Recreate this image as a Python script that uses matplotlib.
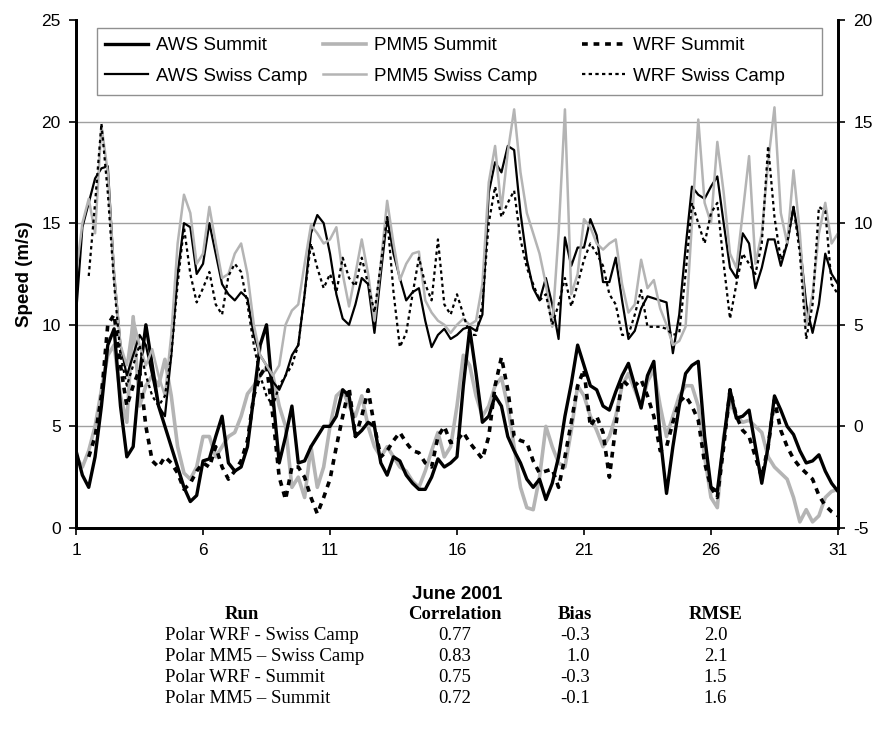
import numpy as np
import matplotlib
matplotlib.use('Agg')
import matplotlib.pyplot as plt
from matplotlib.patches import Rectangle

# six-hourly samples, 1 to 31 June 2001
days = np.arange(1, 31.01, 0.25)

# Summit (left axis, m/s)
aws_summit = [3.8, 2.6, 2.0, 3.5, 6.0, 9.0, 9.8, 6.0,
              3.5, 4.0, 7.5, 10.0, 8.0, 6.0, 5.0, 4.0,
              3.0, 2.0, 1.3, 1.6, 3.3, 3.4, 4.5, 5.5,
              3.2, 2.8, 3.0, 4.0, 6.5, 9.0, 10.0, 6.5,
              3.2, 4.5, 6.0, 3.2, 3.3, 4.0, 4.5, 5.0,
              5.0, 5.5, 6.8, 6.5, 4.5, 4.8, 5.2, 5.0,
              3.2, 2.6, 3.5, 3.3, 2.6, 2.2, 1.9, 1.9,
              2.5, 3.4, 3.0, 3.2, 3.5, 7.0, 9.8, 7.6,
              5.2, 5.5, 6.5, 6.0, 4.5, 3.8, 3.2, 2.4,
              2.0, 2.4, 1.4, 2.2, 3.5, 5.5, 7.1, 9.0,
              8.0, 7.0, 6.8, 6.0, 5.8, 6.7, 7.5, 8.1,
              7.0, 5.9, 7.5, 8.2, 4.5, 1.7, 4.0, 6.0,
              7.6, 8.0, 8.2, 4.5, 2.0, 1.8, 4.3, 6.8,
              5.4, 5.5, 5.8, 4.0, 2.2, 4.0, 6.5, 5.8,
              5.0, 4.6, 3.8, 3.2, 3.3, 3.6, 2.8, 2.2,
              1.8]
pmm5_summit = [3.5, 3.0, 3.8, 5.0, 6.8, 8.5, 9.0, 6.5,
               5.2, 10.4, 6.0, 7.0, 7.5, 7.0, 8.3, 6.5,
               4.0, 2.7, 2.4, 3.0, 4.5, 4.5, 3.5, 4.0,
               4.5, 4.7, 5.5, 6.6, 7.0, 7.5, 7.9, 7.5,
               6.0, 5.0, 2.0, 2.5, 1.5, 4.0, 2.0, 3.0,
               5.0, 6.5, 6.8, 6.0, 5.5, 6.5, 5.0, 4.0,
               3.5, 4.0, 3.5, 3.0, 2.8, 2.3, 2.0, 2.8,
               3.8, 4.7, 3.5, 4.0, 6.0, 8.5, 8.0, 6.5,
               5.5, 6.0, 7.0, 7.4, 6.0, 4.0, 2.0, 1.0,
               0.9, 2.5, 5.0, 4.0, 3.2, 3.0, 4.8, 7.0,
               6.5, 5.5, 4.8, 4.0, 4.5, 5.5, 7.0, 7.6,
               6.8, 6.0, 7.2, 7.8, 6.0, 4.5, 5.5, 6.5,
               7.0, 7.0, 6.0, 3.5, 1.5, 1.0, 4.5, 6.2,
               5.5, 5.2, 5.3, 5.0, 4.7, 3.5, 3.0, 2.7,
               2.4, 1.5, 0.3, 0.9, 0.3, 0.6, 1.5, 1.8,
               1.9]
wrf_summit = [np.nan, np.nan, 3.5, 4.5, 6.5, 10.0, 10.5, 8.0,
              6.0, 7.0, 7.8, 5.0, 3.3, 3.0, 3.5, 3.2,
              2.7, 1.9, 2.2, 2.8, 3.2, 3.0, 4.0, 3.0,
              2.4, 2.8, 3.3, 4.3, 6.5, 7.5, 8.0, 5.5,
              2.5, 1.4, 3.0, 3.0, 2.5, 1.5, 0.7, 1.5,
              2.4, 4.0, 5.5, 6.9, 4.5, 5.5, 6.8, 5.0,
              3.5, 3.8, 4.3, 4.7, 4.2, 3.8, 3.7, 3.2,
              3.0, 4.5, 5.0, 4.2, 4.3, 4.7, 4.2, 3.8,
              3.4, 4.5, 7.0, 8.4, 6.8, 4.5, 4.3, 4.2,
              3.3, 2.7, 2.8, 2.9, 2.0, 3.5, 5.2, 7.0,
              7.8, 5.0, 5.5, 4.7, 2.5, 5.0, 7.3, 7.0,
              7.0, 7.3, 6.5, 5.5, 3.8, 4.0, 5.2, 6.2,
              6.5, 6.0, 5.3, 3.2, 2.0, 1.5, 4.0, 6.8,
              5.5, 4.8, 4.5, 3.5, 2.5, 4.0, 6.3, 4.8,
              4.0, 3.4, 3.0, 2.7, 2.4, 1.6, 1.1, 0.8,
              0.6]

# Swiss Camp (right axis, m/s)
aws_swiss = [5.5, 9.8, 11.0, 12.2, 12.7, 12.8, 7.5, 4.0,
             2.5, 3.5, 4.5, 4.0, 2.5, 1.0, 0.5, 3.5,
             7.5, 10.0, 9.8, 7.5, 8.0, 10.0, 8.5, 7.0,
             6.5, 6.2, 6.6, 6.3, 4.5, 3.5, 3.0, 2.2,
             1.8, 2.5, 3.5, 4.0, 6.5, 9.5, 10.4, 10.0,
             8.5, 6.5, 5.3, 5.0, 6.0, 7.3, 7.0, 4.6,
             7.5, 10.3, 8.5, 7.3, 6.2, 6.6, 6.8, 5.2,
             3.9, 4.5, 4.8, 4.3, 4.5, 4.8, 4.9, 4.7,
             5.5, 11.5, 13.0, 12.5, 13.8, 13.6, 10.5, 8.2,
             6.8, 6.2, 7.3, 6.0, 4.3, 9.3, 7.9, 8.8,
             8.8, 10.2, 9.4, 7.1, 7.1, 8.3, 6.2, 4.3,
             4.7, 5.8, 6.4, 6.3, 6.2, 6.1, 3.6, 5.5,
             8.8, 11.8, 11.4, 11.2, 11.8, 12.3, 10.0, 7.8,
             7.3, 9.5, 9.0, 6.8, 7.8, 9.2, 9.2, 7.9,
             9.0, 10.8, 9.0, 6.0, 4.6, 6.0, 8.5, 7.5,
             7.0]
pmm5_swiss = [7.5, 10.0, 11.2, 9.5, 14.8, 12.5, 7.5, 4.0,
              3.0, 5.3, 4.0, 3.0, 3.8, 2.5, 1.5, 4.5,
              9.0, 11.4, 10.5, 8.0, 8.5, 10.8, 9.0, 7.3,
              7.5, 8.5, 9.0, 7.5, 5.0, 3.5, 3.0, 2.5,
              3.0, 5.0, 5.7, 6.0, 8.0, 9.9, 9.5, 9.0,
              9.2, 9.8, 7.5, 5.9, 7.5, 9.2, 7.5, 5.2,
              8.0, 11.1, 9.0, 7.2, 8.0, 8.5, 8.6, 6.2,
              5.6, 5.2, 5.0, 4.6, 5.0, 5.3, 5.0, 5.2,
              7.0, 12.0, 13.8, 10.7, 13.5, 15.6, 12.5, 10.5,
              9.5, 8.5, 7.0, 4.9, 9.5, 15.6, 6.5, 7.5,
              10.2, 9.8, 9.0, 8.7, 9.0, 9.2, 7.0, 5.6,
              6.0, 8.2, 6.8, 7.2, 5.8, 5.0, 4.0, 4.2,
              4.9, 10.0, 15.1, 11.0, 10.0, 14.0, 11.5, 8.5,
              7.8, 10.5, 13.3, 8.0, 9.5, 13.0, 15.7, 10.5,
              9.0, 12.6, 9.5, 5.0, 6.5, 9.5, 11.0, 9.0,
              9.5]
wrf_swiss = [np.nan, np.nan, 7.4, 11.0, 14.9, 11.5, 7.0, 3.5,
             2.0, 3.0, 4.0, 2.5, 1.5, 1.0, 1.5, 3.5,
             7.0, 9.8, 7.5, 6.1, 6.8, 7.6, 6.0, 5.5,
             7.4, 8.0, 7.6, 6.0, 4.0, 2.5, 1.5, 1.0,
             2.0, 2.5, 3.0, 4.0, 6.5, 9.0, 7.8, 6.8,
             7.5, 6.6, 8.3, 7.3, 6.9, 8.3, 7.0, 5.6,
             8.0, 10.3, 6.6, 3.9, 4.6, 6.5, 8.3, 7.0,
             6.2, 9.2, 6.0, 5.5, 6.5, 5.5, 4.5, 4.5,
             6.0, 10.0, 11.8, 10.3, 11.0, 11.6, 9.2, 7.8,
             7.0, 6.2, 6.5, 5.0, 6.0, 7.3, 5.9, 7.0,
             8.2, 9.0, 8.5, 7.9, 6.5, 6.0, 4.5, 4.5,
             5.5, 6.7, 4.9, 4.9, 4.9, 4.8, 4.5, 4.6,
             7.5, 11.0, 10.0, 9.0, 10.5, 11.0, 8.0, 5.3,
             7.0, 8.5, 8.0, 7.5, 9.0, 13.8, 10.3, 8.2,
             9.0, 10.8, 8.5, 4.3, 6.0, 10.8, 10.6, 7.0,
             6.5]

# statistics table
runs = ['Polar WRF - Swiss Camp', 'Polar MM5 \u2013 Swiss Camp',
        'Polar WRF - Summit', 'Polar MM5 \u2013 Summit']
corr = ['0.77', '0.83', '0.75', '0.72']
bias = ['-0.3', '1.0', '-0.3', '-0.1']
rmse = ['2.0', '2.1', '1.5', '1.6']

gray = '#b4b4b4'
plt.rcParams['font.family'] = ['Liberation Sans', 'DejaVu Sans']
plt.rcParams['axes.unicode_minus'] = False

W, H = 878, 734
fig = plt.figure(figsize=(W / 100, H / 100), dpi=100)
ax = fig.add_axes([0.0866, 0.2807, 0.8678, 0.6921])
ax2 = ax.twinx()

# Swiss Camp on the right scale
l4, = ax2.plot(days, aws_swiss, color='black', lw=1.6)
l5, = ax2.plot(days, pmm5_swiss, color=gray, lw=1.8)
l6, = ax2.plot(days, wrf_swiss, color='black', lw=1.6, linestyle=(0, (1.5, 1.5)))
# Summit on the left scale
l2, = ax.plot(days, pmm5_summit, color=gray, lw=2.6)
l1, = ax.plot(days, aws_summit, color='black', lw=2.4)
l3, = ax.plot(days, wrf_summit, color='black', lw=2.6, linestyle=(0, (1.6, 1.6)))

ax.set_xlim(1, 31)
ax.set_ylim(0, 25)
ax2.set_ylim(-5, 20)
ax.set_xticks(np.arange(1, 32, 5))
ax.set_yticks(np.arange(0, 26, 5))
ax2.set_yticks(np.arange(-5, 21, 5))
for y in [5, 10, 15, 20]:
    ax.axhline(y, color='#a0a0a0', lw=1.0, zorder=0)

for a in (ax, ax2):
    a.tick_params(labelsize=12.5, length=5, width=1.2, direction='out', pad=6)
    a.spines['top'].set_visible(False)
    for s in ['left', 'right', 'bottom']:
        a.spines[s].set_linewidth(2.0)
ax.set_ylabel('Speed (m/s)', fontsize=13.5, fontweight='bold', labelpad=6)
ax.set_xlabel('June 2001', fontsize=13.5, fontweight='bold', labelpad=20)

# legend: white box with three columns placed like the original
fig.add_artist(Rectangle((97 / W, 1 - 95 / H), 725 / W, 67 / H,
                         transform=fig.transFigure, facecolor='white',
                         edgecolor='#909090', lw=1.0, zorder=4))
leg_cols = [(105, [l1, l4], ['AWS Summit', 'AWS Swiss Camp']),
            (323, [l2, l5], ['PMM5 Summit', 'PMM5 Swiss Camp']),
            (582, [l3, l6], ['WRF Summit', 'WRF Swiss Camp'])]
for x0, hs, ls in leg_cols:
    fig.legend(hs, ls, loc='upper left', bbox_to_anchor=(x0 / W, 1 - 37 / H),
               bbox_transform=fig.transFigure, frameon=False, borderpad=0,
               borderaxespad=0, fontsize=13.5, handlelength=2.3,
               handletextpad=0.4, labelspacing=0.72)

# table under the chart
serif = ['Liberation Serif', 'DejaVu Serif']
fs = 13.5
cols = [(0.275, 'Run'), (0.518, 'Correlation'), (0.655, 'Bias'), (0.815, 'RMSE')]
for xc, h in cols:
    fig.text(xc, 0.163, h, ha='center', va='center', family=serif,
             fontsize=fs, fontweight='bold')
for i in range(len(runs)):
    yy = 0.134 - i * 0.0287
    fig.text(0.188, yy, runs[i], ha='left', va='center', family=serif, fontsize=fs)
    fig.text(0.518, yy, corr[i], ha='center', va='center', family=serif, fontsize=fs)
    fig.text(0.672, yy, bias[i], ha='right', va='center', family=serif, fontsize=fs)
    fig.text(0.815, yy, rmse[i], ha='center', va='center', family=serif, fontsize=fs)

fig.savefig('out.png', dpi=100)
